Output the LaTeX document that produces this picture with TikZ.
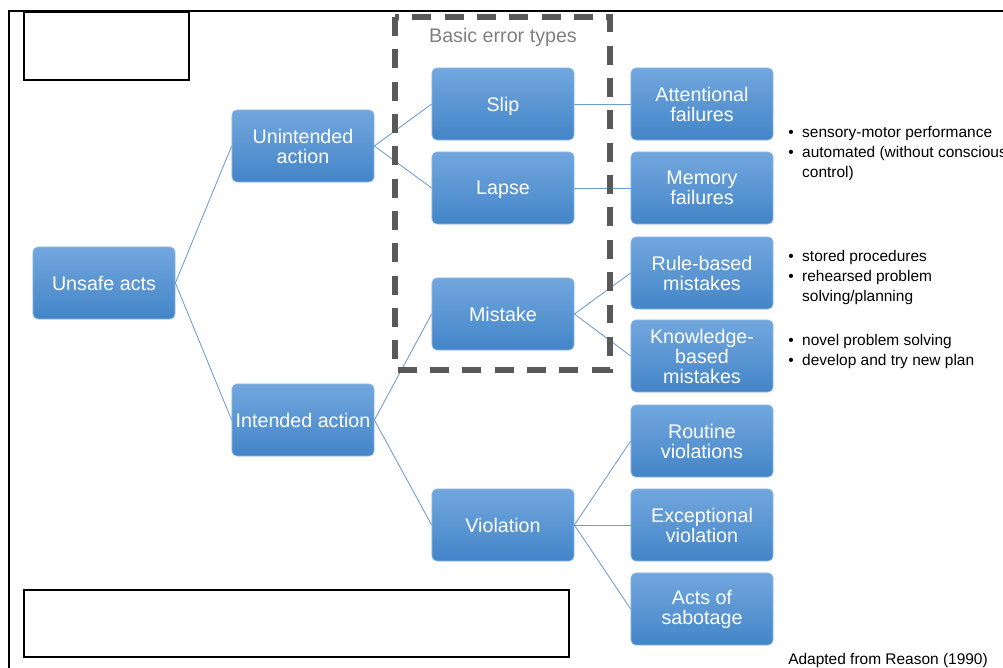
\documentclass[tikz,border=0pt]{standalone}
\usepackage{fontspec}
\setmainfont{Liberation Sans}
\definecolor{boxtop}{HTML}{72A7DE}
\definecolor{boxbot}{HTML}{4385C8}
\definecolor{boxline}{HTML}{8DB8E6}
\definecolor{linkblue}{HTML}{6C9AD2}
\definecolor{dashgray}{HTML}{595959}
\definecolor{titlegray}{HTML}{808080}
\newcommand{\bul}{\textbullet\hspace{0.55em}}
\begin{document}
\begin{tikzpicture}[x=0.025cm,y=-0.025cm,
		act/.style={rectangle,rounded corners=3.5pt,top color=boxtop,bottom color=boxbot,draw=boxline,line width=0.5pt,
			minimum width=3.55cm,minimum height=1.8cm,inner sep=1pt,align=center,text=white,font=\fontsize{14}{14.2}\selectfont},
		link/.style={draw=linkblue,line width=0.6pt},
		note/.style={anchor=north west,inner sep=0pt,align=left,font=\fontsize{11}{14.2}\selectfont}]
		\useasboundingbox (0,0) rectangle (1003,668);
		% frame and empty boxes
		\draw[line width=1.1pt] (9,668) -- (9,11) -- (1003,11);
		\draw[line width=1.9pt] (24,12) rectangle (189,80);
		\draw[line width=1.9pt] (24,590) rectangle (569,657);
		% tree
		\node[act] (unsafe) at (104,283) {Unsafe acts};
		\node[act] (unint) at (303,146) {Unintended\\action};
		\node[act] (intend) at (303,420) {Intended action};
		\node[act,text depth=0pt] (slip) at (503,104) {Slip};
		\node[act,text depth=0pt] (lapse) at (503,188) {Lapse};
		\node[act] (mistake) at (503,314) {Mistake};
		\node[act] (violation) at (503,525) {Violation};
		\node[act] (attn) at (702,104) {Attentional\\failures};
		\node[act] (memory) at (702,188) {Memory\\failures};
		\node[act] (rule) at (702,273) {Rule-based\\mistakes};
		\node[act] (knowledge) at (702,356) {Knowledge-\\based\\mistakes};
		\node[act] (routine) at (702,441) {Routine\\violations};
		\node[act] (except) at (702,525) {Exceptional\\violation};
		\node[act] (sabotage) at (702,609) {Acts of\\sabotage};
		\foreach \a/\b in {unsafe/unint,unsafe/intend,unint/slip,unint/lapse,intend/mistake,intend/violation,
			slip/attn,lapse/memory,mistake/rule,mistake/knowledge,violation/routine,violation/except,violation/sabotage}
			\draw[link] (\a.east) -- (\b.west);
		% basic error types
		\draw[dashgray,line width=3.8pt,dash pattern=on 13.5pt off 9.5pt] (395,17) rectangle (610,370);
		\node[text=titlegray,font=\fontsize{14}{14}\selectfont] (errtitle) at (503,37) {Basic error types};
		% notes
		\node[note] (attnnote) at (788,126) {\bul sensory-motor performance\\\bul automated (without conscious\\\phantom{\bul}control)};
		\node[note] (rulenote) at (788,250) {\bul stored procedures\\\bul rehearsed problem\\\phantom{\bul}solving/planning};
		\node[note] (knownote) at (788,334) {\bul novel problem solving\\\bul develop and try new plan};
		\node[anchor=base west,inner sep=0pt,font=\fontsize{11}{13}\selectfont] (source) at (788,664) {Adapted from Reason (1990)};
		\end{tikzpicture}
\end{document}
